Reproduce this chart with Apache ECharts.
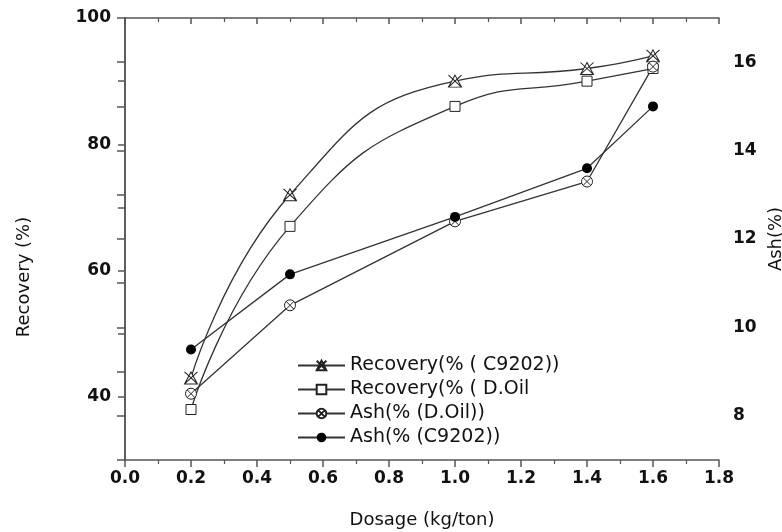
<!DOCTYPE html>
<html>
<head>
<meta charset="utf-8">
<script src="https://cdn.jsdelivr.net/npm/echarts@6/dist/echarts.min.js"></script>
<style>
  html, body { margin: 0; padding: 0; background: #fff; }
  #chart { width: 782px; height: 532px; }
</style>
</head>
<body>
<div id="chart"></div>
<script>
// dosage (kg/ton)
const dosage = [0.2, 0.5, 1.0, 1.4, 1.6]
const recoveryC9202 = [43, 72, 90, 92, 94]
const recoveryDOil = [38, 67, 86, 90, 92]
const ashDOil = [8.5, 10.5, 12.4, 13.3, 15.9]
const ashC9202 = [9.5, 11.2, 12.5, 13.6, 15.0]

const seriesNames = ['Recovery(% ( C9202))', 'Recovery(% ( D.Oil', 'Ash(% (D.Oil))', 'Ash(% (C9202))']
const leftLabels = [40, 60, 80, 100]
const rightLabels = [8, 10, 12, 14, 16]

const pairs = (ys) => dosage.map((x, i) => [x, ys[i]])

const lineCol = '#333'
const axisCol = '#555'
const tickFont = { fontFamily: 'DejaVu Sans', fontWeight: 'bold', fontSize: 17, color: '#111' }
const nameFont = { fontFamily: 'DejaVu Sans', fontSize: 18, color: '#111' }

const triX = 'path://M5,0L10,9L0,9Z M0,0L10,9 M10,0L0,9'
const circX = 'path://M5,0A5,5,0,1,1,5,10A5,5,0,1,1,5,0Z M1.5,1.5L8.5,8.5 M8.5,1.5L1.5,8.5'

const chart = echarts.init(document.getElementById('chart'))
chart.setOption({
  animation: false,
  backgroundColor: '#fff',
  grid: { left: 125, right: 63, top: 18, bottom: 72, outerBoundsMode: 'none' },
  legend: {
    orient: 'vertical',
    left: 292,
    top: 351,
    itemWidth: 47,
    itemHeight: 12,
    itemGap: 5,
    data: seriesNames,
    textStyle: { ...nameFont, fontSize: 19, lineHeight: 18 }
  },
  xAxis: [
    {
      type: 'value',
      min: 0,
      max: 1.8,
      interval: 0.2,
      name: 'Dosage (kg/ton)',
      nameLocation: 'middle',
      nameGap: 51,
      nameTextStyle: nameFont,
      axisLine: { lineStyle: { color: axisCol, width: 1.5 } },
      axisTick: { length: 7, lineStyle: { color: axisCol, width: 1.5 } },
      minorTick: { show: true, splitNumber: 2, length: 4, lineStyle: { color: axisCol, width: 1.2 } },
      axisLabel: { ...tickFont, margin: 10, formatter: v => v.toFixed(1) },
      splitLine: { show: false }
    },
    {
      type: 'value',
      position: 'top',
      min: 0,
      max: 1.8,
      interval: 0.2,
      axisLine: { show: true, lineStyle: { color: axisCol, width: 1.5 } },
      axisTick: { inside: true, length: 6, lineStyle: { color: axisCol, width: 1.5 } },
      minorTick: { show: true, splitNumber: 2, length: 4, lineStyle: { color: axisCol, width: 1.2 } },
      axisLabel: { show: false },
      splitLine: { show: false }
    }
  ],
  yAxis: [
    {
      type: 'value',
      min: 30,
      max: 100,
      interval: 10,
      name: 'Recovery (%)',
      nameLocation: 'middle',
      nameRotate: 90,
      nameGap: 92,
      nameTextStyle: { ...nameFont, padding: [0, 76, 0, 0] },
      axisLine: { show: true, lineStyle: { color: axisCol, width: 1.5 } },
      axisTick: { length: 7, lineStyle: { color: axisCol, width: 1.5 } },
      axisLabel: { ...tickFont, margin: 14, formatter: v => leftLabels.includes(v) ? String(v) : '' },
      splitLine: { show: false }
    },
    {
      type: 'value',
      position: 'right',
      min: 7,
      max: 17,
      interval: 1,
      name: 'Ash(%)',
      nameLocation: 'middle',
      nameRotate: 90,
      nameGap: 44,
      nameTextStyle: nameFont,
      axisLine: { show: true, lineStyle: { color: axisCol, width: 1.5 } },
      axisTick: { inside: true, length: 8, lineStyle: { color: axisCol, width: 1.5 } },
      axisLabel: { ...tickFont, margin: 14, formatter: v => rightLabels.includes(v) ? String(v) : '' },
      splitLine: { show: false }
    }
  ],
  series: [
    {
      name: seriesNames[0],
      type: 'line',
      yAxisIndex: 0,
      data: pairs(recoveryC9202),
      smooth: 0.5,
      symbol: triX,
      symbolSize: [13, 12],
      lineStyle: { color: lineCol, width: 1.3 },
      itemStyle: { color: '#fff', borderColor: '#222', borderWidth: 1 }
    },
    {
      name: seriesNames[1],
      type: 'line',
      yAxisIndex: 0,
      data: pairs(recoveryDOil),
      smooth: 0.5,
      symbol: 'rect',
      symbolSize: 10,
      lineStyle: { color: lineCol, width: 1.3 },
      itemStyle: { color: '#fff', borderColor: '#222', borderWidth: 1 }
    },
    {
      name: seriesNames[2],
      type: 'line',
      yAxisIndex: 1,
      data: pairs(ashDOil),
      symbol: circX,
      symbolSize: 11,
      lineStyle: { color: lineCol, width: 1.3 },
      itemStyle: { color: '#fff', borderColor: '#222', borderWidth: 1 }
    },
    {
      name: seriesNames[3],
      type: 'line',
      yAxisIndex: 1,
      data: pairs(ashC9202),
      symbol: 'circle',
      symbolSize: 10,
      z: 5,
      lineStyle: { color: lineCol, width: 1.3 },
      itemStyle: { color: '#000', borderColor: '#000', borderWidth: 0 }
    }
  ]
})
</script>
</body>
</html>
